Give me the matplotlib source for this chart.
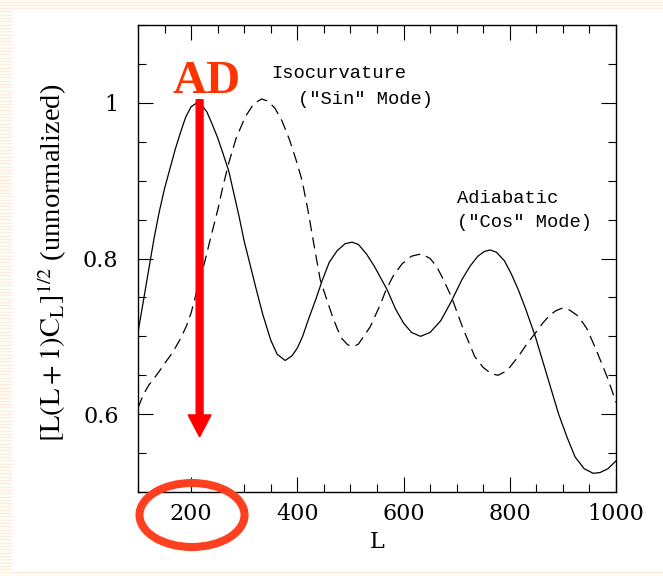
import numpy as np
import matplotlib.pyplot as plt
from matplotlib.patches import Rectangle, Ellipse
from matplotlib.lines import Line2D
from matplotlib.ticker import MultipleLocator

# adiabatic ("cos") mode, solid
L_adi = [100, 110, 120, 130, 140, 150, 160, 170, 180, 190, 200, 211, 220, 230, 240,
         250, 260, 271, 280, 290, 300, 310, 322, 335, 350, 362, 377, 390, 400, 410,
         420, 435, 447, 460, 475, 490, 503, 515, 530, 545, 557, 569, 585, 600, 615,
         632, 650, 670, 690, 710, 725, 740, 752, 763, 775, 790, 803, 816, 830, 848,
         870, 892, 908, 923, 940, 957, 970, 985, 1000]
cl_adi = [0.705, 0.745, 0.785, 0.825, 0.86, 0.89, 0.915, 0.94, 0.962, 0.982, 0.995, 1.0,
          0.997, 0.988, 0.972, 0.955, 0.935, 0.912, 0.885, 0.855, 0.822, 0.795, 0.762,
          0.728, 0.695, 0.677, 0.669, 0.675, 0.685, 0.70, 0.72, 0.748, 0.772, 0.795,
          0.81, 0.819, 0.821, 0.818, 0.806, 0.79, 0.775, 0.76, 0.735, 0.717, 0.705,
          0.70, 0.705, 0.72, 0.745, 0.773, 0.79, 0.803, 0.809, 0.811, 0.808, 0.797,
          0.78, 0.76, 0.735, 0.70, 0.65, 0.60, 0.57, 0.545, 0.53, 0.524, 0.525, 0.53,
          0.54]

# isocurvature ("sin") mode, dashed
L_iso = [100, 110, 120, 128, 140, 150, 165, 180, 191, 200, 208, 216, 225, 238, 250,
         260, 271, 285, 302, 318, 333, 345, 358, 371, 385, 397, 409, 420, 432, 443,
         455, 465, 475, 484, 495, 506, 515, 525, 537, 547, 557, 566, 580, 597, 615,
         634, 650, 662, 672, 690, 712, 734, 750, 765, 778, 795, 816, 832, 848, 862,
         875, 887, 898, 912, 929, 945, 960, 972, 985, 1000]
cl_iso = [0.608, 0.625, 0.637, 0.644, 0.655, 0.665, 0.679, 0.697, 0.713, 0.73, 0.751,
          0.772, 0.794, 0.83, 0.862, 0.893, 0.923, 0.955, 0.982, 0.999, 1.005, 1.002,
          0.993, 0.977, 0.953, 0.928, 0.90, 0.862, 0.815, 0.773, 0.748, 0.728, 0.71,
          0.697, 0.689, 0.687, 0.69, 0.70, 0.712, 0.727, 0.742, 0.758, 0.777, 0.793,
          0.803, 0.806, 0.80, 0.79, 0.777, 0.751, 0.71, 0.674, 0.66, 0.652, 0.65,
          0.656, 0.674, 0.69, 0.704, 0.717, 0.727, 0.733, 0.736, 0.734, 0.726, 0.71,
          0.687, 0.667, 0.645, 0.615]

xticks = [200, 400, 600, 800, 1000]
yticks = [0.6, 0.8, 1.0]
ytick_labels = ['0.6', '0.8', '1']

plt.rcParams['mathtext.fontset'] = 'stix'

fig = plt.figure(figsize=(6.63, 5.76), dpi=100)
fig.patch.set_facecolor('#fefbf3')
# striped slide border
for yy in np.arange(1.5, 576, 3.3):
    fig.add_artist(Line2D([0, 1], [1 - yy / 576] * 2, transform=fig.transFigure,
                          color='#fbebdc', lw=0.7, zorder=-2))
fig.add_artist(Rectangle((12 / 663, 4 / 576), 651 / 663, 563 / 576, transform=fig.transFigure,
                         facecolor='white', edgecolor='none', zorder=-1))

ax = fig.add_axes([138 / 663, 84 / 576, 478 / 663, 467 / 576])
ax.plot(L_adi, cl_adi, color='black', lw=0.9)
ax.plot(L_iso, cl_iso, color='black', lw=0.9, ls='--', dashes=(9, 5))

ax.set_xlim(100, 1000)
ax.set_ylim(0.5, 1.1)
ax.set_xticks(xticks)
ax.set_xticklabels([str(t) for t in xticks])
ax.set_yticks(yticks)
ax.set_yticklabels(ytick_labels)
ax.xaxis.set_minor_locator(MultipleLocator(50))
ax.yaxis.set_minor_locator(MultipleLocator(0.05))
ax.tick_params(which='both', direction='in', top=True, right=True, width=0.8)
ax.tick_params(which='major', length=10.5)
ax.tick_params(which='minor', length=5.5)
ax.tick_params(axis='x', pad=8)
ax.tick_params(axis='y', pad=14)
for lab in ax.get_xticklabels() + ax.get_yticklabels():
    lab.set_fontfamily('DejaVu Serif')
    lab.set_fontsize(16)
for sp in ax.spines.values():
    sp.set_linewidth(1.0)

ax.set_xlabel('L', family='DejaVu Serif', fontsize=16, labelpad=4)
ax.set_ylabel(r'$[\mathrm{L(L+1)C_L}]^{1/2}$ (unnormalized)', family='Liberation Serif',
              fontsize=20.5)
ax.yaxis.set_label_coords(-0.145, 0.49)

ax.text(350, 1.0376, 'Isocurvature', family='Liberation Mono', fontsize=13.5, va='center')
ax.text(401, 1.004, '("Sin" Mode)', family='Liberation Mono', fontsize=13.5, va='center')
ax.text(700, 0.877, 'Adiabatic', family='Liberation Mono', fontsize=13.5, va='center')
ax.text(700, 0.846, '("Cos" Mode)', family='Liberation Mono', fontsize=13.5, va='center')

# red annotations
ax.arrow(216, 1.004, 0, 0.571 - 1.004, width=13, head_width=43, head_length=0.028,
         length_includes_head=True, color='red', zorder=5)
ax.text(230, 1.013, 'AD', color='#ff3300', fontsize=34, fontweight='bold',
        family='Liberation Serif', ha='center', va='baseline', zorder=6)
fig.add_artist(Ellipse((192 / 663, 61 / 576), 105 / 663, 64 / 576, transform=fig.transFigure,
                       fill=False, edgecolor='#ff4020', lw=5.8, zorder=10))

fig.savefig('out.png', dpi=100, facecolor=fig.get_facecolor())
